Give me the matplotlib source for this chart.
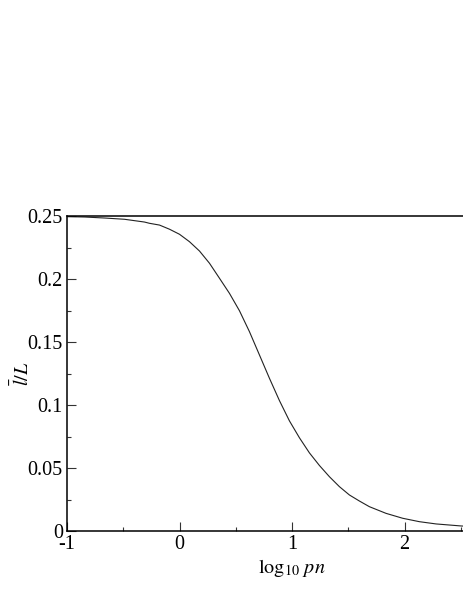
import matplotlib

matplotlib.use("Agg")
import matplotlib.pyplot as plt  # noqa: E402
from matplotlib.ticker import FixedLocator, FuncFormatter, MultipleLocator  # noqa: E402

# curve: x = log10(pn), y = mean l / L
log_pn = [-1.0, -0.844, -0.666, -0.489, -0.311, -0.2665, -0.1777, -0.0888, 0.0,
          0.0888, 0.1777, 0.2665, 0.3553, 0.4442, 0.533, 0.6218, 0.7107, 0.7995,
          0.8883, 0.9772, 1.066, 1.1549, 1.2437, 1.3325, 1.4214, 1.5102, 1.599,
          1.6879, 1.836, 1.984, 2.132, 2.281, 2.503, 2.6]
l_over_L = [0.2495, 0.2492, 0.2484, 0.2474, 0.2452, 0.2442, 0.2428, 0.2395, 0.2355,
            0.2296, 0.2222, 0.2125, 0.2006, 0.1886, 0.1748, 0.1582, 0.1397, 0.1212,
            0.1035, 0.0874, 0.0740, 0.0620, 0.0520, 0.0431, 0.0352, 0.0286, 0.0238,
            0.0193, 0.0140, 0.0101, 0.0074, 0.0056, 0.0040, 0.0035]

x_major = [-1, 0, 1, 2]
x_minor = [-0.5, 0.5, 1.5, 2.5]

plt.rcParams["font.family"] = ["Liberation Serif", "DejaVu Serif"]
plt.rcParams["mathtext.fontset"] = "stix"
plt.rcParams["font.size"] = 14.5

fig = plt.figure(figsize=(4.63, 5.99), dpi=100)
# the original plot ran out to x=3 and was cropped at the right edge
ax = fig.add_axes([67 / 463, 68 / 599, 450 / 463, 315 / 599])

ax.plot(log_pn, l_over_L, color="#222222", lw=0.8)

ax.set_xlim(-1, 3)
ax.set_ylim(0, 0.25)
ax.xaxis.set_major_locator(FixedLocator(x_major))
ax.xaxis.set_minor_locator(FixedLocator(x_minor))
ax.yaxis.set_major_locator(MultipleLocator(0.05))
ax.yaxis.set_minor_locator(MultipleLocator(0.025))
fmt = FuncFormatter(lambda v, _: "%g" % round(v, 4))
ax.xaxis.set_major_formatter(fmt)
ax.yaxis.set_major_formatter(fmt)

ax.tick_params(which="both", direction="in", top=False, right=False, width=0.8,
               color="#333333")
ax.tick_params(which="major", length=6.5, pad=3)
ax.tick_params(which="minor", length=3)
for s in ax.spines.values():
    s.set_linewidth(1.1)

ax.set_xlabel(r"$\log_{10}\,pn$", labelpad=2)
ax.set_ylabel(r"$\bar{l}/L$")
ax.yaxis.set_label_coords(-0.073, 0.5)

fig.savefig("out.png", dpi=100)
